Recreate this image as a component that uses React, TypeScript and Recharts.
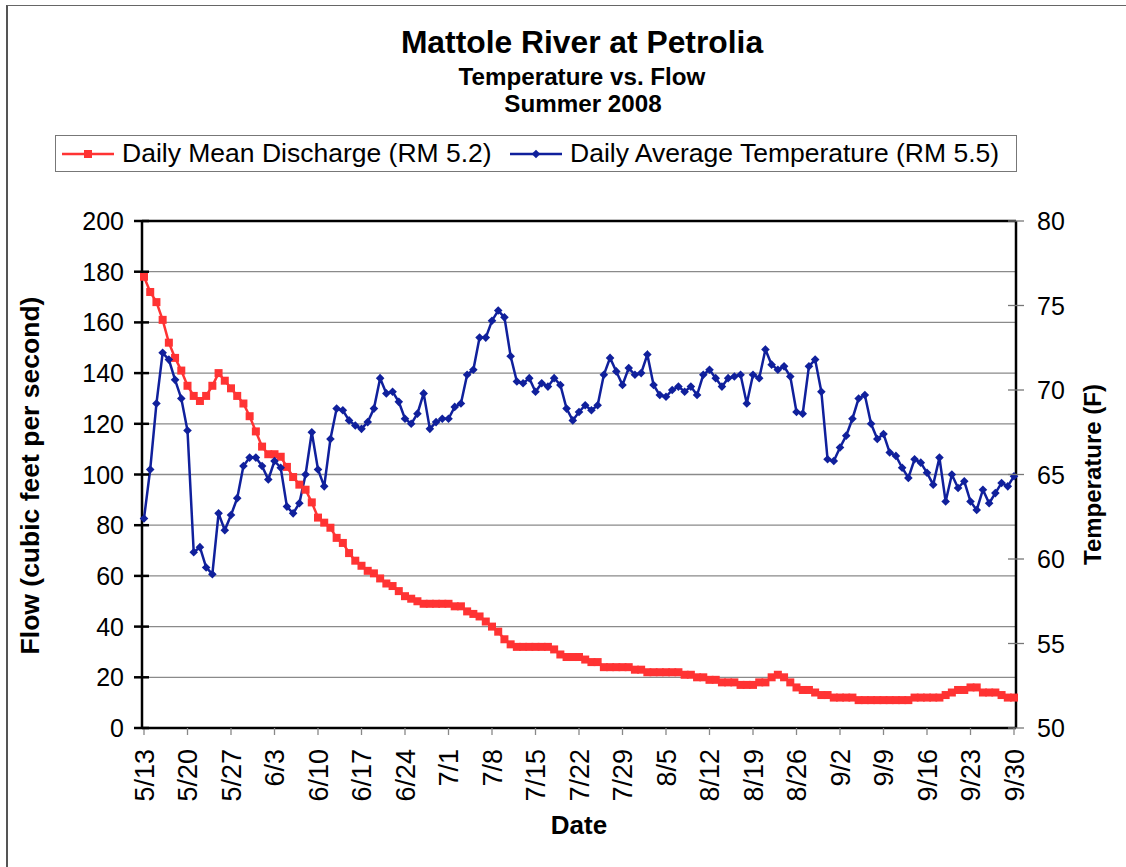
import {
  LineChart, Line, XAxis, YAxis, CartesianGrid,
  Legend, ReferenceLine,
} from 'recharts'

const FONT = '"Liberation Sans", Arial, Helvetica, sans-serif'
const RED = '#FF3333'
const BLUE = '#10209C'

const FLOW_NAME = 'Daily Mean Discharge (RM 5.2)'
const TEMP_NAME = 'Daily Average Temperature (RM 5.5)'

// month, first day, last day of the daily record
const MONTHS: [number, number, number][] = [
  [5, 13, 31], [6, 1, 30], [7, 1, 31], [8, 1, 31], [9, 1, 30],
]
const DATES = MONTHS.flatMap(([m, from, to]) =>
  Array.from({ length: to - from + 1 }, (_, i) => `${m}/${from + i}`))

// cubic feet per second
const FLOW = [
  178, 172, 168, 161, 152, 146, 141, 135, 131, 129, 131, 135, 140, 137, 134, 131, 128, 123,
  117, 111, 108, 108, 107, 103, 99, 96, 94, 89, 83, 81, 79, 75, 73, 69, 66,
  64, 62, 61, 59, 57, 56, 54, 52, 51, 50, 49, 49, 49, 49, 49, 48, 48, 46, 45, 44, 42, 40,
  38, 35, 33, 32, 32, 32, 32, 32, 32, 31, 29, 28,
  28, 28, 27, 26, 26, 24, 24, 24, 24, 24, 23, 23, 22, 22, 22, 22, 22, 22, 21, 21, 20, 20,
  19, 19, 18, 18, 18, 17, 17, 17, 18, 18, 20, 21, 20, 18,
  16, 15, 15, 14, 13, 13, 12, 12, 12, 12, 11, 11, 11, 11, 11, 11, 11, 11, 11, 12, 12, 12,
  12, 12, 13, 14, 15, 15, 16, 16, 14, 14, 14, 13, 12, 12,
]

// degrees F
const TEMP = [
  62.4, 65.3, 69.2, 72.2, 71.8, 70.6, 69.5, 67.6, 60.4, 60.7, 59.5, 59.1, 62.7, 61.7, 62.6,
  63.6, 65.5, 66.0, 66.0, 65.5, 64.7, 65.8, 65.4, 63.1, 62.7, 63.3, 65.0, 67.5, 65.3, 64.3,
  67.1, 68.9, 68.8, 68.2, 67.9,
  67.7, 68.1, 68.9, 70.7, 69.8, 69.9, 69.3, 68.3, 68.0, 68.6, 69.8, 67.7, 68.1, 68.3, 68.3,
  69.0, 69.2, 70.9, 71.2, 73.1, 73.1, 74.1, 74.7, 74.3, 72.0, 70.5, 70.4, 70.7, 69.9, 70.4,
  70.2, 70.7, 70.3, 68.9,
  68.2, 68.7, 69.1, 68.8, 69.1, 70.9, 71.9, 71.1, 70.3, 71.3, 70.9, 71.0, 72.1, 70.3, 69.7,
  69.6, 70.0, 70.2, 69.9, 70.2, 69.7, 70.9, 71.2, 70.7, 70.2, 70.7, 70.8, 70.9, 69.2, 70.9,
  70.7, 72.4, 71.5, 71.2, 71.4, 70.8,
  68.7, 68.6, 71.4, 71.8, 69.9, 65.9, 65.8, 66.6, 67.3, 68.3, 69.5, 69.7, 68.0, 67.1, 67.4,
  66.3, 66.1, 65.4, 64.8, 65.9, 65.7, 65.1, 64.4, 66.0, 63.4, 65.0, 64.2, 64.6, 63.4, 62.9,
  64.1, 63.3, 63.9, 64.5, 64.3, 64.9,
]

const FLOW_TICKS = [0, 20, 40, 60, 80, 100, 120, 140, 160, 180, 200]
const TEMP_TICKS = [50, 55, 60, 65, 70, 75, 80]

const data = DATES.map((date, i) => ({ date, flow: FLOW[i], temp: TEMP[i] }))

/* eslint-disable @typescript-eslint/no-explicit-any */
function FlowTick({ x, y, payload }: any) {
  const ax = x + 18
  return (
    <g>
      <line x1={ax - 8} x2={ax + 7} y1={y} y2={y} stroke="#000" strokeWidth={2.5} />
      <text x={x} y={y} dy="0.36em" textAnchor="end" fontSize={25} fontFamily={FONT} fill="#000">
        {payload.value}
      </text>
    </g>
  )
}

function TempTick({ x, y, payload }: any) {
  const ax = x - 21
  return (
    <g>
      <line x1={ax - 8} x2={ax + 8} y1={y} y2={y} stroke="#777" strokeWidth={1.3} />
      <text x={x} y={y} dy="0.36em" textAnchor="start" fontSize={25} fontFamily={FONT} fill="#000">
        {payload.value}
      </text>
    </g>
  )
}

function DateTick({ x, y, payload }: any) {
  return (
    <text x={x} y={y} dy="0.36em" textAnchor="end" transform={`rotate(-90 ${x} ${y})`}
          fontSize={27} fontFamily={FONT} fill="#000">
      {payload.value}
    </text>
  )
}

function SquareDot({ cx, cy, index }: any) {
  if (cx == null || cy == null) return <g key={`s-${index}`} />
  return <rect key={`s-${index}`} x={cx - 4} y={cy - 4} width={8} height={8} fill={RED} />
}

function DiamondDot({ cx, cy, index }: any) {
  if (cx == null || cy == null) return <g key={`d-${index}`} />
  const r = 4.3
  return <path key={`d-${index}`} fill={BLUE}
    d={`M${cx},${cy - r}L${cx + r},${cy}L${cx},${cy + r}L${cx - r},${cy}Z`} />
}

function LegendBox() {
  const text = { position: 'absolute' as const, top: 0, lineHeight: '35px', fontSize: 26.5, fontFamily: FONT, color: '#000', whiteSpace: 'nowrap' as const }
  return (
    <div style={{ position: 'relative', width: 962, height: 37, boxSizing: 'border-box',
                  border: '1.3px solid #777', background: '#fff' }}>
      <svg width={52} height={12} style={{ position: 'absolute', left: 6, top: 12 }}>
        <line x1={0} x2={52} y1={6} y2={6} stroke={RED} strokeWidth={2.5} />
        <rect x={22} y={2} width={8} height={8} fill={RED} />
      </svg>
      <span style={{ ...text, left: 66 }}>{FLOW_NAME}</span>
      <svg width={52} height={12} style={{ position: 'absolute', left: 454, top: 12 }}>
        <line x1={0} x2={52} y1={6} y2={6} stroke={BLUE} strokeWidth={2.5} />
        <path d="M26,1.7L30.3,6L26,10.3L21.7,6Z" fill={BLUE} />
      </svg>
      <span style={{ ...text, left: 514 }}>{TEMP_NAME}</span>
    </div>
  )
}

export default function App() {
  return (
    <div style={{ position: 'absolute', left: 0, top: 0, width: 1126, height: 867,
                  overflow: 'hidden', background: '#fff' }}>
      <div style={{ position: 'absolute', left: 6, top: 5, width: 1300, height: 1000,
                    borderLeft: '2px solid #555', borderTop: '1.3px solid #666' }} />
      <svg width={1126} height={125} style={{ position: 'absolute', left: 0, top: 0 }}>
        <g fontFamily={FONT} fontWeight="bold" textAnchor="middle" fill="#000">
          <text x={582} y={53} fontSize={31.8}>Mattole River at Petrolia</text>
          <text x={582} y={84.5} fontSize={24.2}>Temperature vs. Flow</text>
          <text x={583} y={112} fontSize={24.2}>Summer 2008</text>
        </g>
      </svg>
      <div style={{ position: 'absolute', left: 0, top: 0 }}>
        <LineChart width={1126} height={867} data={data}
                   margin={{ top: 221, right: 0, bottom: 0, left: 0 }}>
          <CartesianGrid yAxisId="flow" vertical={false} stroke="#8a8a8a" strokeWidth={1.3} />
          <XAxis dataKey="date" interval={6} padding={{ left: 2, right: 2 }} height={139}
                 axisLine={{ stroke: '#000', strokeWidth: 2.5 }}
                 tickLine={{ stroke: '#888', strokeWidth: 1.3 }} tickSize={7} tickMargin={14}
                 tick={<DateTick />}
                 label={(p: any) => (
                   <text x={p.viewBox.x + p.viewBox.width / 2} y={p.viewBox.y + 97}
                         dominantBaseline="central" textAnchor="middle" fontSize={26}
                         fontWeight="bold" fontFamily={FONT} fill="#000">Date</text>
                 )} />
          <YAxis yAxisId="flow" domain={[0, 200]} ticks={FLOW_TICKS} width={142}
                 allowDataOverflow interval={0}
                 axisLine={{ stroke: '#000', strokeWidth: 2.5 }} tickLine={false}
                 tickSize={8} tickMargin={10} tick={<FlowTick />}
                 label={(p: any) => {
                   const cx = p.viewBox.x + 30
                   const cy = p.viewBox.y + p.viewBox.height / 2 + 1
                   return (
                     <text x={cx} y={cy} transform={`rotate(-90 ${cx} ${cy})`}
                           dominantBaseline="central" textAnchor="middle" fontSize={26.5}
                           fontWeight="bold" fontFamily={FONT} fill="#000">
                       Flow (cubic feet per second)
                     </text>
                   )
                 }} />
          <YAxis yAxisId="temp" orientation="right" domain={[50, 80]} ticks={TEMP_TICKS}
                 width={110} allowDataOverflow interval={0}
                 axisLine={{ stroke: '#000', strokeWidth: 2.5 }} tickLine={false}
                 tickSize={8} tickMargin={13} tick={<TempTick />}
                 label={(p: any) => {
                   const cx = p.viewBox.x + 76
                   const cy = p.viewBox.y + p.viewBox.height / 2
                   return (
                     <text x={cx} y={cy} transform={`rotate(-90 ${cx} ${cy})`}
                           dominantBaseline="central" textAnchor="middle" fontSize={24}
                           fontWeight="bold" fontFamily={FONT} fill="#000">
                       Temperature (F)
                     </text>
                   )
                 }} />
          <ReferenceLine yAxisId="flow" y={200} stroke="#000" strokeWidth={2.5} />
          <Legend layout="horizontal" verticalAlign="middle" align="center"
                  wrapperStyle={{ top: 135, left: 55, width: 962, height: 37 }}
                  content={() => <LegendBox />} />
          <Line yAxisId="flow" dataKey="flow" name={FLOW_NAME} type="linear"
                stroke={RED} strokeWidth={2.5} dot={SquareDot} activeDot={false}
                isAnimationActive={false} />
          <Line yAxisId="temp" dataKey="temp" name={TEMP_NAME} type="linear"
                stroke={BLUE} strokeWidth={2.5} dot={DiamondDot} activeDot={false}
                isAnimationActive={false} />
        </LineChart>
      </div>
    </div>
  )
}
